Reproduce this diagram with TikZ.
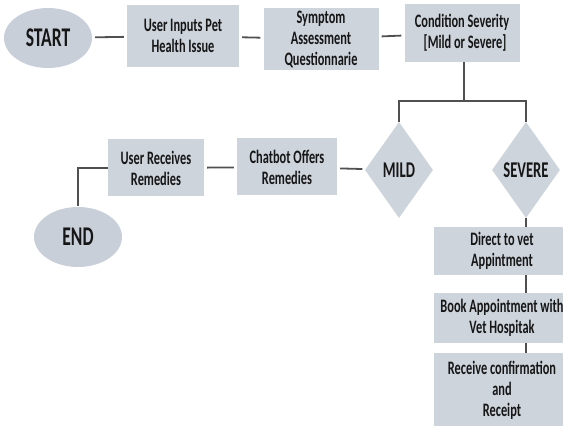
\documentclass[tikz,border=0pt]{standalone}
\usepackage{fontspec}
\setmainfont{Carlito}[FakeStretch=0.65]
\usetikzlibrary{shapes.geometric}
\definecolor{boxfill}{RGB}{205,212,220}
\definecolor{ovalfill}{RGB}{200,207,217}
\definecolor{linkgrey}{RGB}{80,80,80}
\definecolor{inkgrey}{RGB}{22,22,22}

\begin{document}
\begin{tikzpicture}[x=1pt,y=-1pt,
  box/.style={rectangle,fill=boxfill,align=center,inner sep=0pt,text=inkgrey,
    font=\fontsize{19}{21}\selectfont\bfseries},
  oval/.style={ellipse,fill=ovalfill,inner sep=0pt,minimum width=88pt,minimum height=60pt,
    text=inkgrey,font=\fontsize{27}{28}\selectfont\bfseries},
  choice/.style={diamond,fill=boxfill,inner sep=0pt,minimum width=68pt,minimum height=96pt,
    text=inkgrey,font=\fontsize{22.5}{24}\selectfont\bfseries},
  link/.style={draw=linkgrey,line width=1.8pt,shorten <=3pt,shorten >=3pt}]
\useasboundingbox (0,0) rectangle (563,430);
% top row
\node[oval] (start) at (48,38) {START};
\node[box,minimum width=112pt,minimum height=62pt] (inputs) at (183,36) {User Inputs Pet\\Health Issue};
\node[box,minimum width=115pt,minimum height=62pt] (symptom) at (321,39) {Symptom\\Assessment\\Questionnarie};
\node[box,minimum width=115pt,minimum height=58pt] (severity) at (462,33) {Condition Severity\\\hspace*{6pt}{[}Mild or Severe]};
% decision
\node[choice] (mild) at (399,170) {MILD};
\node[choice] (severe) at (526,170) {SEVERE};
\coordinate (split) at (464,101);
% mild branch
\node[box,minimum width=100pt,minimum height=57pt] (chatbot) at (287,167) {Chatbot Offers\\Remedies};
\node[box,minimum width=96pt,minimum height=57pt] (receives) at (156,168) {User Receives\\Remedies};
\node[oval] (end) at (78,237) {END};
% severe branch
\node[box,minimum width=136pt,minimum height=48pt] (direct) at (502,251) {Direct to vet\\Appintment};
\node[box,minimum width=136pt,minimum height=50pt] (book) at (502,318) {Book Appointment with\\Vet Hospitak};
\node[box,minimum width=136pt,minimum height=73pt] (confirm) at (502,390) {Receive confirmation\\and\\Receipt};
% connectors
\draw[link] (start) -- (inputs);
\draw[link] (inputs) -- (symptom);
\draw[link] (symptom) -- (severity);
\draw[link,shorten <=0pt,shorten >=0pt] (severity.south -| split) -- (split);
\draw[link,shorten <=0pt,shorten >=0pt] (mild.north) |- (split) -| (severe.north);
\draw[link] (mild) -- (chatbot);
\draw[link] (chatbot) -- (receives);
\draw[link,shorten <=0pt,shorten >=1pt] (receives.west) -| (end.north);
\draw[link,shorten <=0pt,shorten >=0pt] (severe.south) -- (severe.south |- direct.north);
\draw[link,shorten <=0pt,shorten >=0pt] (severe.south |- direct.south) -- (severe.south |- book.north);
\draw[link,shorten <=0pt,shorten >=0pt] (severe.south |- book.south) -- (severe.south |- confirm.north);
\end{tikzpicture}
\end{document}
